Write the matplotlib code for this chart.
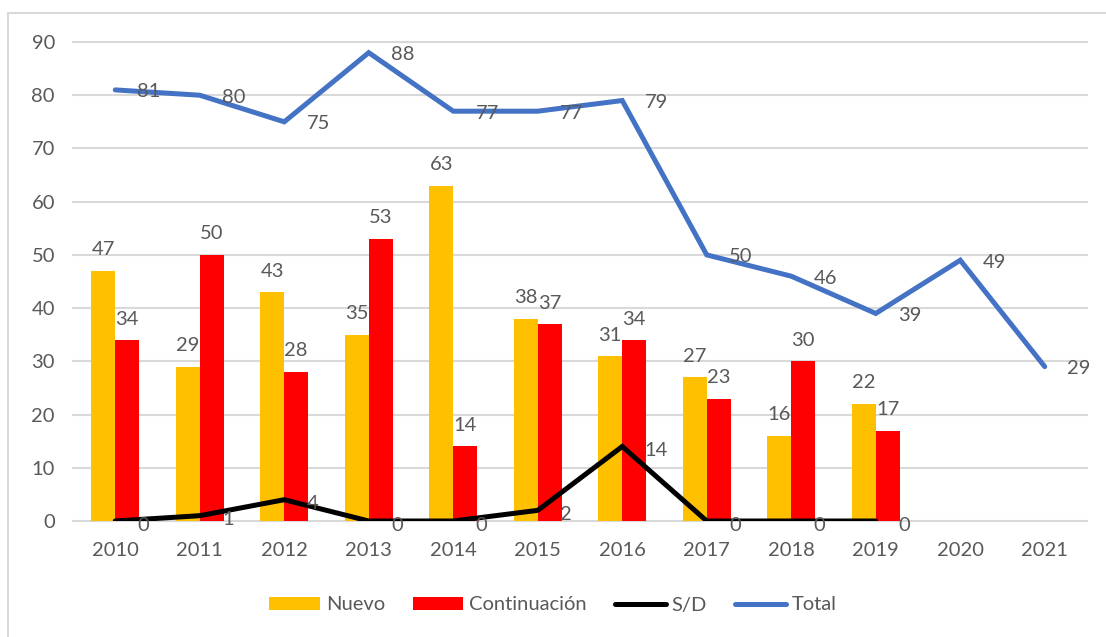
import matplotlib.pyplot as plt
import numpy as np
from matplotlib.patches import Rectangle

years = ["2010", "2011", "2012", "2013", "2014", "2015", "2016", "2017", "2018", "2019", "2020", "2021"]
nuevo = [47, 29, 43, 35, 63, 38, 31, 27, 16, 22]
continuacion = [34, 50, 28, 53, 14, 37, 34, 23, 30, 17]
sd = [0, 1, 4, 0, 0, 2, 14, 0, 0, 0]
total = [81, 80, 75, 88, 77, 77, 79, 50, 46, 39, 49, 29]

plt.rcParams['font.family'] = ['Lato', 'DejaVu Sans']
txt = '#595959'
c_nuevo = '#FFC000'
c_cont = '#FF0000'
c_sd = '#000000'
c_tot = '#4472C4'

fig = plt.figure(figsize=(11.06, 6.37), dpi=100)
fig.patches.append(Rectangle((8/1106, -0.01), 1.02, 1 - 13/637 + 0.01, transform=fig.transFigure,
                             fill=False, edgecolor='#D9D9D9', linewidth=1.5))
ax = fig.add_axes([73/1106, 1 - 521/637, (1087-73)/1106, (521-42)/637])

x = np.arange(len(years))
xb = np.arange(len(nuevo))
w = 0.284
b1 = ax.bar(xb - w/2, nuevo, w, color=c_nuevo, label='Nuevo', zorder=2)
b2 = ax.bar(xb + w/2, continuacion, w, color=c_cont, label='Continuación', zorder=2)
l1, = ax.plot(xb, sd, color=c_sd, lw=3.6, label='S/D', zorder=3, solid_capstyle='round', solid_joinstyle='miter')
l2, = ax.plot(x, total, color=c_tot, lw=3.6, label='Total', zorder=3, solid_capstyle='round', solid_joinstyle='miter')

fs = 14.5
for i, v in enumerate(nuevo):
    ax.annotate(str(v), (xb[i] - w/2, v), xytext=(0, 9), textcoords='offset points',
                ha='center', va='bottom', fontsize=fs, color=txt, zorder=5)
for i, v in enumerate(continuacion):
    ax.annotate(str(v), (xb[i] + w/2, v), xytext=(0, 9), textcoords='offset points',
                ha='center', va='bottom', fontsize=fs, color=txt, zorder=5)
for i, v in enumerate(sd):
    ax.annotate(str(v), (xb[i], v), xytext=(16, -3), textcoords='offset points',
                ha='left', va='center', fontsize=fs, color=txt, zorder=5)
for i, v in enumerate(total):
    ax.annotate(str(v), (x[i], v), xytext=(16, -1.5), textcoords='offset points',
                ha='left', va='center', fontsize=fs, color=txt, zorder=5)

ax.set_xlim(-0.5, len(years) - 0.5)
ax.set_ylim(0, 90)
ax.set_yticks(range(0, 91, 10))
ax.set_xticks(x)
ax.set_xticklabels(years)
ax.grid(axis='y', color='#D9D9D9', lw=1.5, zorder=0)
ax.set_axisbelow(True)
for s in ax.spines.values():
    s.set_visible(False)
ax.tick_params(axis='both', length=0, labelsize=fs, labelcolor=txt)
ax.tick_params(axis='x', pad=15)
ax.tick_params(axis='y', pad=13)
for gl in ax.get_ygridlines():
    gl.set_clip_on(False)

fig.legend(handles=[b1, b2, l1, l2], loc='center', bbox_to_anchor=(0.5, 1 - 605/637), ncol=4, frameon=False,
           fontsize=fs, labelcolor=txt, handlelength=2.5, handleheight=0.6,
           handletextpad=0.3, columnspacing=1.4)

fig.savefig('out.png', dpi=100)
